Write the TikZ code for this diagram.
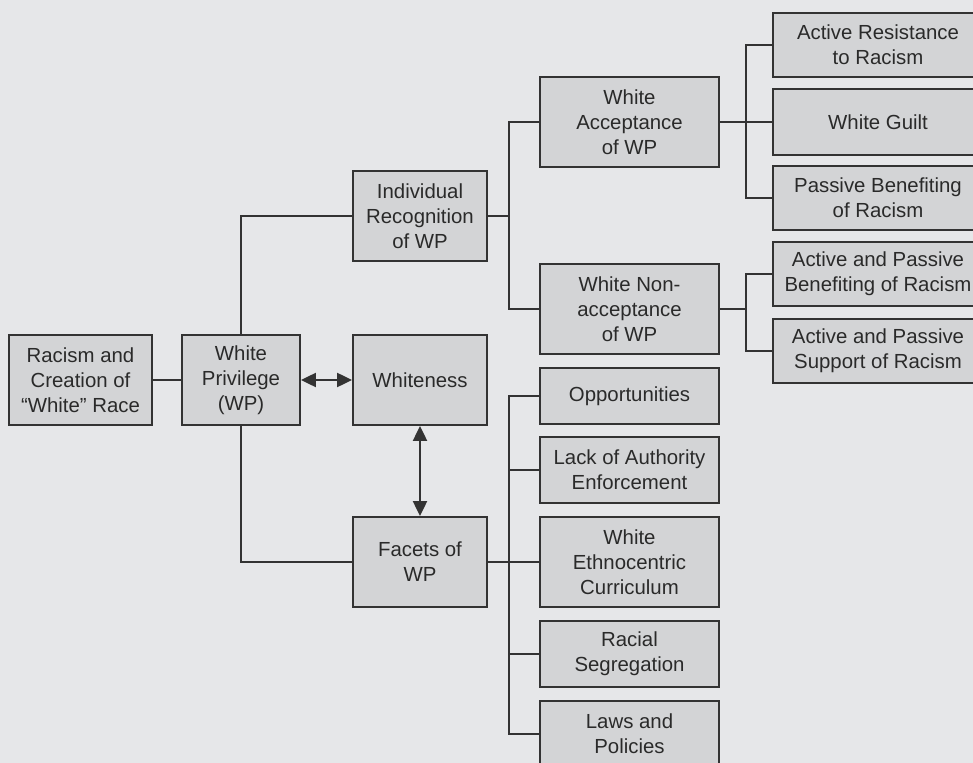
\documentclass[tikz,border=0pt]{standalone}
\usepackage{fontspec}
\setmainfont{Liberation Sans}
\usetikzlibrary{arrows.meta}
\usetikzlibrary{calc}
\definecolor{bggray}{HTML}{E6E7E9}
\definecolor{boxgray}{HTML}{D3D4D6}
\definecolor{linegray}{HTML}{333333}
\definecolor{txtgray}{HTML}{2A2A2A}
\tikzset{
  wpbox/.style={draw=linegray,line width=1.1pt,fill=boxgray,align=center,
    inner sep=0pt,text=txtgray,font=\fontsize{11.6}{14.2}\selectfont},
  link/.style={draw=linegray,line width=1.05pt},
  both/.style={link,{Triangle[length=8.5pt,width=8pt]}-{Triangle[length=8.5pt,width=8pt]}}
}

\begin{document}
\begin{tikzpicture}[x=0.02cm,y=-0.02cm]
\useasboundingbox (0,0) rectangle (973,763);
\clip (0,0) rectangle (973,763);
\fill[bggray] (0,0) rectangle (973,763);
% left part
\node[wpbox,minimum width=2.86cm,minimum height=1.8cm] (rac) at (80.5,380) {Racism and\\Creation of\\“White” Race};
\node[wpbox,minimum width=2.36cm,minimum height=1.8cm] (wp) at (241,380) {White\\Privilege\\(WP)};
\node[wpbox,minimum width=2.68cm,minimum height=1.8cm] (ind) at (420,216) {Individual\\Recognition\\of WP};
\node[wpbox,minimum width=2.68cm,minimum height=1.8cm] (whi) at (420,380) {Whiteness};
\node[wpbox,minimum width=2.68cm,minimum height=1.8cm] (fac) at (420,562) {Facets of\\WP};
% middle column
\node[wpbox,minimum width=3.58cm,minimum height=1.8cm] (acc) at (629.5,122) {White\\Acceptance\\of WP};
\node[wpbox,minimum width=3.58cm,minimum height=1.8cm] (non) at (629.5,309) {White Non-\\acceptance\\of WP};
\node[wpbox,minimum width=3.58cm,minimum height=1.12cm] (opp) at (629.5,396) {Opportunities};
\node[wpbox,minimum width=3.58cm,minimum height=1.32cm] (lac) at (629.5,470) {Lack of Authority\\Enforcement};
\node[wpbox,minimum width=3.58cm,minimum height=1.8cm] (eth) at (629.5,562) {White\\Ethnocentric\\Curriculum};
\node[wpbox,minimum width=3.58cm,minimum height=1.32cm] (seg) at (629.5,654) {Racial\\Segregation};
\node[wpbox,minimum width=3.58cm,minimum height=1.32cm] (law) at (629.5,734) {Laws and\\Policies};
% right column
\node[wpbox,minimum width=4.2cm,minimum height=1.28cm] (res) at (878,45) {Active Resistance\\to Racism};
\node[wpbox,minimum width=4.2cm,minimum height=1.32cm] (gui) at (878,122) {White Guilt};
\node[wpbox,minimum width=4.2cm,minimum height=1.28cm] (pbe) at (878,198) {Passive Benefiting\\of Racism};
\node[wpbox,minimum width=4.2cm,minimum height=1.28cm] (apb) at (878,274) {Active and Passive\\Benefiting of Racism};
\node[wpbox,minimum width=4.2cm,minimum height=1.28cm] (aps) at (878,351) {Active and Passive\\Support of Racism};
% branch points
\coordinate (indbr) at (509,216);
\coordinate (accbr) at (746,122);
\coordinate (nonbr) at (746,309);
\coordinate (facbr) at (509,562);
% connectors
\draw[link] (rac) -- (wp);
\draw[link] (wp.north) |- (ind.west);
\draw[link] (wp.south) |- (fac.west);
\draw[both] (wp) -- (whi);
\draw[both] (whi) -- (fac);
\draw[link] (ind.east) -- (indbr);
\draw[link] (acc.west) -| (indbr) |- (non.west);
\draw[link] (acc.east) -- (gui.west);
\draw[link] (res.west) -| (accbr) |- (pbe.west);
\draw[link] (non.east) -- (nonbr);
\draw[link] (apb.west) -| (nonbr) |- (aps.west);
\draw[link] (fac.east) -- (eth.west);
\draw[link] (opp.west) -| (facbr) |- (law.west);
\draw[link] (lac.west) -- (lac.west -| facbr);
\draw[link] (seg.west) -- (seg.west -| facbr);
\end{tikzpicture}
\end{document}
